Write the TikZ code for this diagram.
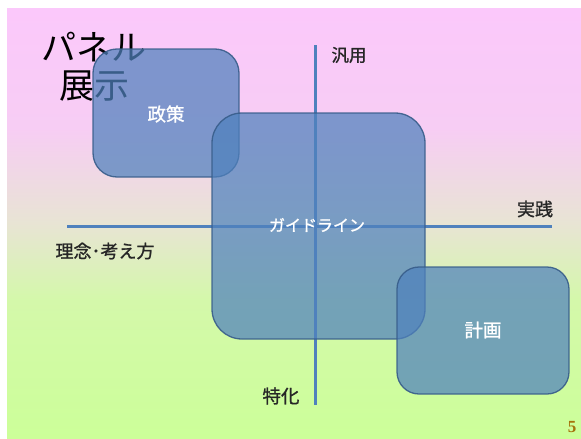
\documentclass[tikz,border=0pt]{standalone}
\usepackage{fontspec}
\newfontfamily\cjk{Noto Sans CJK JP}
\newfontfamily\cjkb[FakeBold=1.2]{Noto Sans CJK JP}
\setmainfont{Liberation Serif}
\definecolor{bgtop}{RGB}{251,200,251}
\definecolor{bgpk}{RGB}{247,205,244}
\definecolor{bgmid}{RGB}{232,228,212}
\definecolor{bggr}{RGB}{212,248,170}
\definecolor{bgbot}{RGB}{204,255,153}
\definecolor{boxfill}{RGB}{79,129,189}
\definecolor{boxedge}{RGB}{56,93,138}
\definecolor{axiscol}{RGB}{79,129,189}
\definecolor{numcol}{RGB}{165,115,10}
\pgfdeclareverticalshading{slidebg}{100bp}{color(0bp)=(bgbot); color(25bp)=(bgbot); color(41bp)=(bggr); color(50bp)=(bgmid); color(61bp)=(bgpk); color(75bp)=(bgtop); color(100bp)=(bgtop)}
\begin{document}
\begin{tikzpicture}[x=1pt,y=-1pt,
  panel/.style={draw=boxedge,line width=1.3pt,fill=boxfill,fill opacity=0.72,draw opacity=0.9},
  axis/.style={draw=axiscol,line width=3pt},
  lbl/.style={font=\cjkb\fontsize{17.5}{20}\selectfont,text=black!85,inner sep=0pt},
  boxtxt/.style={font=\cjkb\fontsize{18.5}{21}\selectfont,text=white,inner sep=0pt},
  ttl/.style={font=\cjk\fontsize{35}{38}\selectfont,text=black,inner sep=0pt,anchor=west}]
\useasboundingbox (0,0) rectangle (581,439);
\fill[white] (0,0) rectangle (581,439);
\shade[shading=slidebg] (7,8) rectangle (581,438);
% title
\node[ttl] (t1) at (41,47) {パネル};
\node[ttl] (t2) at (59,86) {展示};
% axes
\coordinate (vt) at (315,45);
\coordinate (vb) at (315,405);
\coordinate (hl) at (67,226);
\coordinate (hr) at (552,226);
\draw[axis] (vt) -- (vb);
\draw[axis] (hl) -- (hr);
% panels
\draw[panel,rounded corners=24pt] (93,49) rectangle (239,177);
\draw[panel,rounded corners=30pt] (212,113) rectangle (425,339);
\draw[panel,rounded corners=22pt] (397,267) rectangle (569,394);
\node[boxtxt] (p1) at (166,114) {政策};
\node[boxtxt,font=\cjkb\fontsize{16}{18}\selectfont] (p2) at (317,225) {ガイドライン};
\node[boxtxt] (p3) at (483,330) {計画};
% axis labels
\node[lbl] (a1) at (349,55) {汎用};
\node[lbl,font=\cjkb\fontsize{18}{20}\selectfont] (a2) at (535,209) {実践};
\node[lbl,font=\cjkb\fontsize{18}{20}\selectfont] (a3) at (105,251) {理念･考え方};
\node[lbl,font=\cjkb\fontsize{18.5}{20}\selectfont] (a4) at (281,396) {特化};
\node[font=\bfseries\fontsize{17}{19}\selectfont,text=numcol,inner sep=0pt] (pg) at (572,427) {5};
\end{tikzpicture}
\end{document}
